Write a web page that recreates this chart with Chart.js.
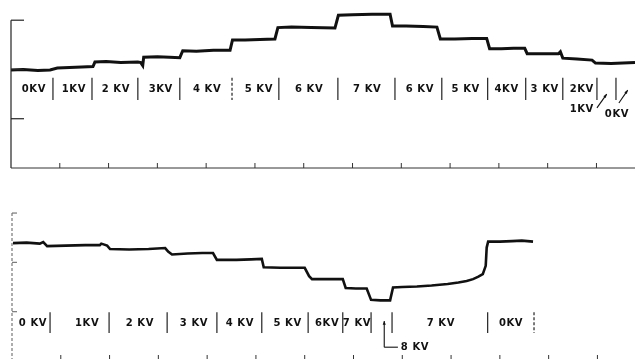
<!DOCTYPE html>
<html lang="en">
<head>
  <meta charset="UTF-8" />
  <title>Recorder trace – KV steps</title>
  <script src="https://cdn.jsdelivr.net/npm/chart.js"></script>
  <style>
    html, body { margin: 0; padding: 0; background: #fff; overflow: hidden; }
    body { width: 635px; height: 359px; position: relative; }
    canvas { position: absolute; left: 0; }
    #chartTop { top: 0; }
    #chartBottom { top: 180px; }
  </style>
</head>
<body>
  <canvas id="chartTop" width="635" height="180"></canvas>
  <canvas id="chartBottom" width="635" height="182"></canvas>

  <script>
    // x in chart divisions, y in divisions above the paper baseline

    // upper run: 0 -> 7 KV -> 0 KV
    const topX = [0.00, 0.25, 0.55, 0.80, 0.95, 1.20, 1.45, 1.68, 1.72, 1.95, 2.25, 2.60, 2.66, 2.70, 2.72,
                  3.00, 3.25, 3.46, 3.52, 3.80, 4.15, 4.49, 4.54, 4.80, 5.10, 5.41, 5.47, 5.75, 6.15, 6.64,
                  6.71, 7.00, 7.40, 7.77, 7.82, 8.10, 8.45, 8.73, 8.80, 9.10, 9.45, 9.75, 9.81, 10.05, 10.30,
                  10.53, 10.58, 10.90, 11.22, 11.26, 11.31, 11.60, 11.91, 11.98, 12.30, 12.79];
    const topY = [1.99, 2.00, 1.98, 1.99, 2.03, 2.04, 2.05, 2.06, 2.15, 2.16, 2.14, 2.15, 2.14, 2.08, 2.25,
                  2.26, 2.25, 2.24, 2.38, 2.37, 2.39, 2.39, 2.60, 2.60, 2.61, 2.62, 2.85, 2.86, 2.85, 2.84,
                  3.10, 3.11, 3.12, 3.12, 2.88, 2.88, 2.87, 2.86, 2.62, 2.62, 2.63, 2.63, 2.42, 2.42, 2.43,
                  2.43, 2.32, 2.32, 2.32, 2.36, 2.23, 2.21, 2.19, 2.13, 2.12, 2.14];

    // lower run: 0 -> 8 KV, held at 7 KV, back to 0 KV
    const botX = [0.02, 0.30, 0.57, 0.64, 0.72, 1.10, 1.50, 1.80, 1.83, 1.95, 2.01, 2.40, 2.80, 3.14, 3.20,
                  3.28, 3.60, 3.90, 4.12, 4.20, 4.60, 4.90, 5.12, 5.16, 5.50, 5.80, 6.00, 6.09, 6.15, 6.45,
                  6.78, 6.84, 7.05, 7.27, 7.36, 7.55, 7.75, 7.81, 8.00, 8.30, 8.60, 8.93, 9.15, 9.32, 9.45,
                  9.56, 9.65, 9.71, 9.73, 9.76, 10.00, 10.25, 10.45, 10.68];
    const botY = [2.39, 2.40, 2.38, 2.41, 2.33, 2.34, 2.35, 2.35, 2.38, 2.34, 2.27, 2.26, 2.27, 2.29, 2.22,
                  2.16, 2.18, 2.19, 2.19, 2.05, 2.05, 2.06, 2.07, 1.90, 1.89, 1.89, 1.89, 1.72, 1.66, 1.66,
                  1.66, 1.48, 1.47, 1.47, 1.24, 1.23, 1.23, 1.49, 1.50, 1.51, 1.53, 1.56, 1.59, 1.62, 1.66,
                  1.71, 1.76, 1.93, 2.30, 2.42, 2.42, 2.43, 2.44, 2.42];

    // paper divisions
    const divTicksX = [1, 2, 3, 4, 5, 6, 7, 8, 9, 10, 11, 12];
    const divTicksY = [1, 2, 3];

    // voltage marks written on the paper
    const topMarks = [0.86, 1.66, 2.60, 3.46, 4.53, 5.49, 6.70, 7.87, 8.83, 9.77, 10.55, 11.31, 12.01, 12.40];
    const topLabels = ['0KV', '1KV', '2 KV', '3KV', '4 KV', '5 KV', '6 KV', '7 KV', '6 KV', '5 KV', '4KV', '3 KV', '2KV'];
    const topLabelX = [0.47, 1.29, 2.15, 3.07, 4.02, 5.08, 6.11, 7.30, 8.38, 9.32, 10.16, 10.94, 11.70];
    const topNotes = ['1KV', '0KV'];
    const topNoteX = [11.70, 12.42];
    const topNoteY = [1.18, 1.08];

    const botMarks = [0.78, 1.99, 3.18, 4.20, 5.12, 6.07, 6.78, 7.36, 7.79, 9.75, 10.70];
    const botLabels = ['0 KV', '1KV', '2 KV', '3 KV', '4 KV', '5 KV', '6KV', '7 KV', '7 KV', '0KV'];
    const botLabelX = [0.43, 1.54, 2.62, 3.73, 4.67, 5.65, 6.46, 7.07, 8.79, 10.23];

    const pts = (xs, ys) => xs.map((x, i) => ({ x: x, y: ys[i] }));

    const recorderFrame = {
      id: 'recorderFrame',
      afterDatasetsDraw(chart, args, o) {
        const ctx = chart.ctx;
        const X = v => chart.scales.x.getPixelForValue(v);
        const Y = v => chart.scales.y.getPixelForValue(v);
        const line = (x1, y1, x2, y2) => { ctx.beginPath(); ctx.moveTo(x1, y1); ctx.lineTo(x2, y2); ctx.stroke(); };
        ctx.save();

        // left edge with its scale marks
        ctx.strokeStyle = o.edgeColor;
        ctx.lineWidth = 1.2;
        ctx.setLineDash(o.edgeDash);
        line(X(0), Y(0), X(0), Y(3));
        ctx.setLineDash([]);
        divTicksY.forEach(v => line(X(0), Y(v), X(0) + o.edgeTick, Y(v)));

        // baseline and its division ticks
        ctx.strokeStyle = '#333';
        ctx.lineWidth = 1;
        line(X(0), Y(0), chart.chartArea.right, Y(0));
        divTicksX.forEach(v => line(X(v), Y(0), X(v), Y(0) - o.baseTick));

        // separators between voltage settings
        ctx.strokeStyle = '#222';
        ctx.lineWidth = 1.2;
        o.marks.forEach((v, i) => {
          ctx.setLineDash(i === o.dashedMark ? [3, 2] : []);
          line(X(v), Y(o.markTop), X(v), Y(o.markBottom));
        });
        ctx.setLineDash([]);

        // lettering
        ctx.fillStyle = '#111';
        ctx.font = 'bold 10px "DejaVu Sans"';
        ctx.letterSpacing = '0.6px';
        ctx.textAlign = 'center';
        ctx.textBaseline = 'middle';
        o.labels.forEach((t, i) => ctx.fillText(t, X(o.labelX[i]), Y(o.labelY)));
        if (o.afterText) o.afterText(ctx, X, Y, line);
        ctx.restore();
      }
    };

    const arrowUp = (ctx, x1, y1, x2, y2) => {
      const a = Math.atan2(y2 - y1, x2 - x1);
      ctx.beginPath();
      ctx.moveTo(x1, y1);
      ctx.lineTo(x2, y2);
      ctx.stroke();
      ctx.beginPath();
      ctx.moveTo(x2, y2);
      ctx.lineTo(x2 - 4 * Math.cos(a - 0.4), y2 - 4 * Math.sin(a - 0.4));
      ctx.lineTo(x2 - 4 * Math.cos(a + 0.4), y2 - 4 * Math.sin(a + 0.4));
      ctx.closePath();
      ctx.fill();
    };

    function makeChart(id, data, xMax, yMax, pad, frame, width) {
      return new Chart(document.getElementById(id), {
        type: 'line',
        data: {
          datasets: [{
            data: data,
            borderColor: '#111',
            borderWidth: width,
            pointRadius: 0,
            tension: 0,
            fill: false
          }]
        },
        options: {
          responsive: false,
          animation: false,
          layout: { padding: pad },
          scales: {
            x: { type: 'linear', min: 0, max: xMax, display: false },
            y: { type: 'linear', min: 0, max: yMax, display: false }
          },
          plugins: {
            legend: { display: false },
            tooltip: { enabled: false },
            recorderFrame: frame
          }
        },
        plugins: [recorderFrame]
      });
    }

    makeChart('chartTop', pts(topX, topY), 12.79, 3.41,
      { left: 11, top: 0, right: 0, bottom: 12 },
      {
        edgeColor: '#222', edgeDash: [], edgeTick: 13, baseTick: 5,
        marks: topMarks, dashedMark: 4, markTop: 1.83, markBottom: 1.38,
        labels: topLabels, labelX: topLabelX, labelY: 1.60,
        afterText(ctx, X, Y) {
          topNotes.forEach((t, i) => ctx.fillText(t, X(topNoteX[i]), Y(topNoteY[i])));
          ctx.strokeStyle = '#111';
          ctx.lineWidth = 1.1;
          arrowUp(ctx, X(12.01), Y(1.22), X(12.21), Y(1.50));
          arrowUp(ctx, X(12.46), Y(1.32), X(12.64), Y(1.58));
        }
      }, 3);

    makeChart('chartBottom', pts(botX, botY), 12.77, 3.67,
      { left: 12, top: 0, right: 0, bottom: 1 },
      {
        edgeColor: '#777', edgeDash: [3, 2], edgeTick: 5, baseTick: 6,
        marks: botMarks, dashedMark: 10, markTop: 0.99, markBottom: 0.57,
        labels: botLabels, labelX: botLabelX, labelY: 0.77,
        afterText(ctx, X, Y, line) {
          // pointer to the 8 KV setting
          ctx.strokeStyle = '#111';
          ctx.lineWidth = 1.1;
          line(X(7.63), Y(0.28), X(7.91), Y(0.28));
          arrowUp(ctx, X(7.63), Y(0.28), X(7.63), Y(0.81));
          ctx.textAlign = 'left';
          ctx.fillText('8 KV', X(7.97), Y(0.28));
        }
      }, 2.6);
  </script>
</body>
</html>
